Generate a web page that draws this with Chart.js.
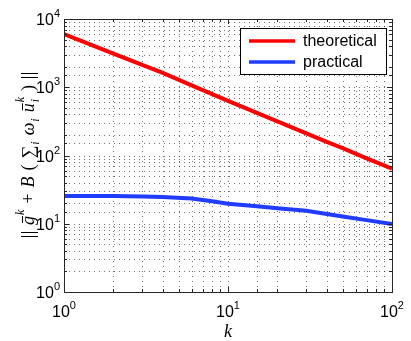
<!DOCTYPE html>
<html>
<head>
<meta charset="utf-8">
<script src="https://cdn.jsdelivr.net/npm/chart.js@4"></script>
<style>
  html, body { margin: 0; padding: 0; background: #fff; }
  canvas { display: block; }
</style>
</head>
<body>
<canvas id="normChart" width="411" height="341"></canvas>
<script>
// values (log-log)
const kValues = [1, 2, 3, 4, 6, 8, 10, 15, 20, 30, 40, 50, 70, 100];
const theoretical = [6000, 3100, 2120, 1620, 1065, 795, 630, 420, 316, 211, 158, 128, 91, 64];
const practical = [25.5, 25.4, 25.1, 24.7, 23.4, 21.3, 19.7, 18.0, 16.9, 15.5, 13.9, 12.8, 11.3, 9.9];
const seriesNames = ['theoretical', 'practical'];
const seriesColors = ['#ff0000', '#1f3cff'];
const xDecades = [1, 10, 100];
const yDecades = [1, 10, 100, 1000, 10000];

const SANS = '"Liberation Sans", Arial, Helvetica, sans-serif';
const SERIF = '"Liberation Serif", "Times New Roman", serif';

function isDecade(v) {
    const l = Math.log10(v);
    return Math.abs(l - Math.round(l)) < 1e-9;
}

// "10" with a raised exponent, like MATLAB's tick labels
function drawPow(ctx, exp, x, y, align) {
    ctx.font = '16px ' + SANS;
    const wb = ctx.measureText('10').width;
    ctx.font = '11px ' + SANS;
    const we = ctx.measureText(String(exp)).width;
    let left = x;
    if (align === 'right') left = x - wb - we;
    if (align === 'center') left = x - (wb + we) / 2;
    ctx.textAlign = 'left';
    ctx.textBaseline = 'alphabetic';
    ctx.font = '16px ' + SANS;
    ctx.fillText('10', left, y);
    ctx.font = '11px ' + SANS;
    ctx.fillText(String(exp), left + wb, y - 8);
}

function drawFormula(ctx, cx, cy, target) {
    const up = '18px ' + SERIF;
    const it = 'italic 18px ' + SERIF;
    const sm = 'italic 12px ' + SERIF;
    // script parts hang on the previous glyph, only main glyphs get extra spacing
    const parts = [
        { norm: true },
        { t: 'g', f: it, bar: true },
        { t: 'k', f: sm, dy: -10, script: true },
        { t: '+', f: up },
        { t: 'B', f: it },
        { t: '(', f: up },
        { t: '\u2211', f: up },
        { t: 'i', f: sm, dy: 5, script: true },
        { t: '\u03c9', f: it },
        { t: 'i', f: sm, dy: 5, script: true },
        { t: 'u', f: it, bar: true },
        { t: 'i', f: sm, dy: 5, script: true, keep: true },
        { t: 'k', f: sm, dy: -10, script: true },
        { t: ')', f: up },
        { norm: true }
    ];
    let total = 0, gaps = 0;
    parts.forEach((p, i) => {
        if (p.norm) { p.w = 7; } else { ctx.font = p.f; p.w = ctx.measureText(p.t).width; }
        if (p.script) p.w += 1;
        if (!p.keep) total += p.w;
        if (i > 0 && !p.script) gaps++;
    });
    const gap = Math.max(0, (target - total) / gaps);
    ctx.save();
    ctx.translate(cx, cy);
    ctx.rotate(-Math.PI / 2);
    ctx.fillStyle = '#000';
    ctx.strokeStyle = '#000';
    ctx.lineWidth = 1;
    ctx.textAlign = 'left';
    ctx.textBaseline = 'alphabetic';
    let xx = -target / 2;
    parts.forEach((p, i) => {
        if (i > 0 && !p.script) xx += gap;
        if (p.norm) {
            ctx.beginPath();
            ctx.moveTo(xx + 1.5, -13); ctx.lineTo(xx + 1.5, 4);
            ctx.moveTo(xx + 5.5, -13); ctx.lineTo(xx + 5.5, 4);
            ctx.stroke();
        } else {
            ctx.font = p.f;
            ctx.fillText(p.t, xx + (p.script ? 1 : 0), p.dy || 0);
            if (p.bar) {
                ctx.beginPath();
                ctx.moveTo(xx + 2, -11.5);
                ctx.lineTo(xx + p.w, -11.5);
                ctx.stroke();
            }
        }
        if (!p.keep) xx += p.w;
    });
    ctx.restore();
}

const matlabAxes = {
    id: 'matlabAxes',
    beforeDatasetsDraw(chart) {
        const { ctx, chartArea: a, scales: { x, y } } = chart;
        ctx.save();
        ctx.strokeStyle = 'rgba(0,0,0,0.55)';
        ctx.lineWidth = 1;
        ctx.setLineDash([1, 4]);
        x.ticks.forEach(t => {
            if (t.value <= x.min || t.value >= x.max) return;
            const px = Math.round(x.getPixelForValue(t.value)) + 0.5;
            ctx.beginPath();
            ctx.moveTo(px, a.bottom);
            ctx.lineTo(px, a.top);
            ctx.stroke();
        });
        y.ticks.forEach(t => {
            if (t.value <= y.min || t.value >= y.max) return;
            const py = Math.round(y.getPixelForValue(t.value)) + 0.5;
            ctx.beginPath();
            ctx.moveTo(a.left, py);
            ctx.lineTo(a.right, py);
            ctx.stroke();
        });
        ctx.restore();
    },
    afterDraw(chart) {
        const { ctx, chartArea: a, scales: { x, y } } = chart;
        ctx.save();
        ctx.strokeStyle = '#262626';
        ctx.lineWidth = 1;
        ctx.setLineDash([]);
        // inward tick marks on all four sides
        x.ticks.forEach(t => {
            const px = Math.round(x.getPixelForValue(t.value)) + 0.5;
            const len = isDecade(t.value) ? 5 : 3;
            ctx.beginPath();
            ctx.moveTo(px, a.bottom); ctx.lineTo(px, a.bottom - len);
            ctx.moveTo(px, a.top); ctx.lineTo(px, a.top + len);
            ctx.stroke();
        });
        y.ticks.forEach(t => {
            const py = Math.round(y.getPixelForValue(t.value)) + 0.5;
            const len = isDecade(t.value) ? 5 : 3;
            ctx.beginPath();
            ctx.moveTo(a.left, py); ctx.lineTo(a.left + len, py);
            ctx.moveTo(a.right, py); ctx.lineTo(a.right - len, py);
            ctx.stroke();
        });
        ctx.strokeRect(Math.round(a.left) + 0.5, Math.round(a.top) + 0.5,
            Math.round(a.right - a.left), Math.round(a.bottom - a.top));

        ctx.fillStyle = '#000';
        yDecades.forEach(v => {
            drawPow(ctx, Math.round(Math.log10(v)), a.left - 4, y.getPixelForValue(v) + 6, 'right');
        });
        xDecades.forEach(v => {
            drawPow(ctx, Math.round(Math.log10(v)), x.getPixelForValue(v), a.bottom + 25, 'center');
        });

        // axis titles
        ctx.font = 'italic 18px ' + SERIF;
        ctx.textAlign = 'center';
        ctx.textBaseline = 'alphabetic';
        ctx.fillText('k', x.getPixelForValue(10), 337);
        drawFormula(ctx, 34, 155, 166);

        // legend box in the upper right
        const lx = 240, ly = 28, lw = 146, lh = 46;
        ctx.fillStyle = '#fff';
        ctx.fillRect(lx, ly, lw, lh);
        ctx.strokeStyle = '#000';
        ctx.strokeRect(lx + 0.5, ly + 0.5, lw, lh);
        chart.data.datasets.forEach((ds, i) => {
            const yy = ly + 13 + i * 21;
            ctx.strokeStyle = ds.borderColor;
            ctx.lineWidth = 3.5;
            ctx.beginPath();
            ctx.moveTo(lx + 9, yy);
            ctx.lineTo(lx + 55, yy);
            ctx.stroke();
            ctx.fillStyle = '#000';
            ctx.font = '16px ' + SANS;
            ctx.textAlign = 'left';
            ctx.textBaseline = 'middle';
            ctx.fillText(ds.label, lx + 63, yy + 1);
        });
        ctx.restore();
    }
};

const ctx = document.getElementById('normChart').getContext('2d');
const chart = new Chart(ctx, {
    type: 'line',
    data: {
        datasets: [{
            label: seriesNames[0],
            data: kValues.map((k, i) => ({ x: k, y: theoretical[i] })),
            borderColor: seriesColors[0],
            borderWidth: 4,
            pointRadius: 0,
            tension: 0,
            fill: false
        }, {
            label: seriesNames[1],
            data: kValues.map((k, i) => ({ x: k, y: practical[i] })),
            borderColor: seriesColors[1],
            borderWidth: 4,
            pointRadius: 0,
            tension: 0,
            fill: false
        }]
    },
    options: {
        responsive: false,
        animation: false,
        layout: { padding: { top: 19, right: 19, left: 0, bottom: 0 } },
        plugins: { legend: { display: false }, tooltip: { enabled: false } },
        scales: {
            x: {
                type: 'logarithmic',
                min: 1,
                max: 100,
                grid: { display: false },
                border: { display: false },
                ticks: { display: false },
                afterFit: s => { s.height = 49; }
            },
            y: {
                type: 'logarithmic',
                min: 1,
                max: 10000,
                grid: { display: false },
                border: { display: false },
                ticks: { display: false },
                afterFit: s => { s.width = 64; }
            }
        }
    },
    plugins: [matlabAxes]
});
</script>
</body>
</html>
